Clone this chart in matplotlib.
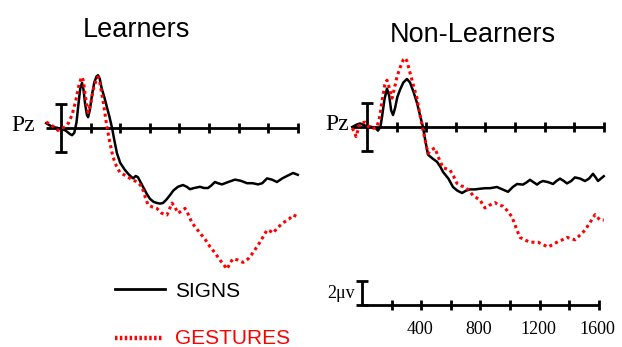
import matplotlib
matplotlib.use("Agg")
import matplotlib.pyplot as plt
from matplotlib.lines import Line2D

# ---------------- data (ms, microvolts) ----------------
learn_signs_t = [-100, -60, -20, 30, 60, 75, 90, 105, 118, 130, 142, 152, 163, 175, 183, 195,
                 210, 225, 240, 250, 262, 275, 292, 310, 328, 345, 360, 378, 400, 432, 460,
                 487, 505, 520, 554, 580, 601, 625, 648, 670, 689, 710, 736, 760, 790, 824,
                 850, 871, 900, 939, 965, 993, 1015, 1040, 1060, 1088, 1130, 1176, 1215,
                 1257, 1295, 1331, 1360, 1392, 1425, 1459, 1495, 1527, 1568, 1600]
learn_signs_v = [0.4, 0.1, 0.0, -0.2, -0.5, -0.6, -0.4, 0.5, 2.0, 3.3, 3.75, 3.2, 2.0, 1.1,
                 0.9, 1.5, 2.8, 3.8, 4.3, 4.4, 4.1, 3.3, 2.6, 1.75, 0.9, 0.0, -1.0, -2.1,
                 -2.9, -3.5, -3.9, -4.2, -4.0, -4.1, -4.9, -5.5, -5.9, -6.15, -6.25, -6.3,
                 -6.25, -6.0, -5.6, -5.2, -4.9, -4.75, -4.9, -5.1, -5.0, -4.9, -5.0, -5.0,
                 -4.8, -4.5, -4.6, -4.7, -4.5, -4.3, -4.4, -4.6, -4.6, -4.7, -4.6, -4.2,
                 -4.3, -4.5, -4.2, -4.0, -3.75, -3.9]

learn_gest_t = [-100, -65, -20, 27, 50, 75, 100, 120, 135, 142, 152, 165, 183, 200, 220, 240,
                250, 262, 285, 310, 330, 351, 375, 398, 440, 480, 515, 547, 570, 588, 620,
                648, 680, 716, 750, 770, 791, 815, 838, 860, 885, 910, 939, 975, 1007, 1040,
                1074, 1100, 1122, 1145, 1162, 1195, 1230, 1265, 1297, 1345, 1392, 1415, 1432,
                1465, 1500, 1540, 1568, 1600]
learn_gest_v = [0.5, 0.25, -0.2, 0.1, 0.4, 1.1, 2.3, 3.5, 4.1, 4.25, 3.9, 2.6, 1.3, 2.0, 3.3,
                4.1, 4.25, 3.8, 2.2, 0.1, -1.2, -2.4, -3.2, -3.7, -4.0, -4.3, -4.5, -4.9,
                -5.8, -6.4, -6.6, -6.7, -7.1, -7.25, -6.25, -6.6, -7.1, -6.9, -6.7, -7.2,
                -7.9, -8.3, -8.75, -9.3, -9.9, -10.4, -11.0, -11.4, -11.75, -11.2, -10.9,
                -11.0, -11.2, -10.9, -10.4, -9.5, -8.5, -8.6, -8.75, -8.3, -7.9, -7.6, -7.25,
                -7.4]

non_signs_t = [-100, -70, -47, -10, 34, 60, 74, 90, 101, 118, 135, 150, 163, 176, 190, 205,
               223, 245, 270, 291, 315, 338, 358, 378, 395, 412, 440, 473, 495, 514, 550,
               581, 610, 642, 670, 696, 730, 760, 800, 831, 878, 915, 953, 985, 1014, 1054,
               1080, 1101, 1125, 1149, 1170, 1189, 1225, 1257, 1280, 1304, 1330, 1351, 1380,
               1405, 1440, 1473, 1500, 1527, 1545, 1561, 1580, 1600]
non_signs_v = [0.0, 0.2, 0.3, 0.1, 0.0, -0.1, -0.3, 0.0, 0.8, 2.3, 3.2, 2.6, 1.4, 1.0, 1.6,
               2.5, 3.1, 3.7, 4.0, 3.7, 2.9, 2.0, 1.0, 0.0, -1.2, -2.3, -2.6, -2.9, -3.3,
               -3.75, -4.3, -5.0, -5.3, -5.5, -5.3, -5.2, -5.2, -5.15, -5.1, -5.1, -5.0,
               -5.2, -5.4, -5.0, -4.75, -4.8, -4.6, -4.4, -4.6, -4.8, -4.6, -4.5, -4.6,
               -4.75, -4.5, -4.3, -4.5, -4.7, -4.5, -4.2, -4.3, -4.5, -4.3, -3.9, -4.2,
               -4.5, -4.3, -4.1]

non_gest_t = [-100, -85, -74, -60, -47, -14, 20, 50, 67, 85, 101, 120, 135, 150, 169, 185,
              203, 225, 245, 257, 270, 291, 315, 338, 358, 378, 412, 435, 459, 485, 514,
              540, 561, 585, 608, 635, 662, 690, 716, 740, 764, 797, 830, 865, 890, 919,
              950, 980, 1010, 1034, 1065, 1101, 1130, 1155, 1190, 1223, 1255, 1284, 1320,
              1351, 1380, 1405, 1440, 1473, 1510, 1541, 1574, 1600]
non_gest_v = [-0.1, -0.4, -0.8, -0.2, 0.3, 0.4, -0.1, -0.1, 0.0, 0.8, 2.1, 3.5, 3.9, 3.3,
              2.4, 3.2, 4.2, 5.0, 5.6, 5.75, 5.5, 4.5, 3.4, 2.4, 1.0, -0.25, -2.2, -1.9,
              -1.75, -2.6, -3.4, -3.5, -3.6, -4.1, -4.7, -4.9, -5.0, -5.3, -5.7, -5.9,
              -6.1, -6.75, -6.5, -6.3, -6.5, -6.6, -7.0, -7.5, -8.5, -9.2, -9.4, -9.6,
              -9.6, -9.6, -9.8, -10.0, -9.8, -9.6, -9.4, -9.2, -9.3, -9.4, -9.0, -8.6,
              -7.9, -7.3, -7.75, -7.75]

tick_ms = [200, 400, 600, 800, 1000, 1200, 1400, 1600]
label_ms = [400, 800, 1200, 1600]
titles = ["Learners", "Non-Learners"]
legend_labels = ["SIGNS", "GESTURES"]

# ---------------- layout ----------------
W, H = 622, 347
fig = plt.figure(figsize=(W / 100, H / 100), dpi=100)
PX_MS = 29.6 / 200.0
PX_UV = 12.0
SERIF = ["Liberation Serif", "DejaVu Serif"]
SANS = ["Liberation Sans", "DejaVu Sans"]
RED = "#ff0000"


def make_axes(x0, base, left, right, top, bottom):
    ax = fig.add_axes([left / W, 1 - bottom / H, (right - left) / W, (bottom - top) / H])
    ax.set_xlim((left - x0) / PX_MS, (right - x0) / PX_MS)
    ax.set_ylim((base - bottom) / PX_UV, (base - top) / PX_UV)
    ax.axis("off")
    return ax


def draw_panel(ax, st, sv, gt, gv):
    ax.plot([-100, 1600], [0, 0], color="black", lw=2.0, solid_capstyle="butt", zorder=2)
    ax.plot(tick_ms, [0] * len(tick_ms), ls="none", marker="|", ms=6.5, mew=2.0,
            color="black", zorder=2)
    ax.errorbar([0], [0], yerr=[[2], [2]], color="black", lw=2.0, capsize=4.5,
                capthick=2.0, zorder=2)
    ax.plot(st, sv, color="black", lw=1.8, zorder=3, solid_joinstyle="round")
    ax.plot(gt, gv, color=RED, lw=2.2, ls=(0, (1, 1.1)), zorder=4)


axL = make_axes(61, 128, 40, 312, 50, 285)
draw_panel(axL, learn_signs_t, learn_signs_v, learn_gest_t, learn_gest_v)
axR = make_axes(367, 127, 345, 616, 40, 272)
draw_panel(axR, non_signs_t, non_signs_v, non_gest_t, non_gest_v)

# scale axis
axS = make_axes(362, 305, 340, 616, 275, 320)
axS.plot([0, 1600], [0, 0], color="black", lw=2.0, solid_capstyle="butt")
axS.plot(tick_ms, [0] * len(tick_ms), ls="none", marker="|", ms=6.5, mew=2.0, color="black")
axS.errorbar([0], [0], yerr=[[0], [2]], color="black", lw=2.0, capsize=4.5, capthick=2.0)
for t in label_ms:
    axS.annotate(str(t), (t, 0), xytext=(-1, -18), textcoords="offset points",
                 ha="center", va="center", fontsize=13, family=SERIF)
axS.annotate("2\u03bcv", (0, 0), xytext=(-5, 8), textcoords="offset points",
             ha="right", va="center", fontsize=13, family=SERIF)

# titles and labels
fig.text(136 / W, 1 - 37 / H, titles[0], ha="center", va="baseline", fontsize=19.5, family=SANS)
fig.text(473 / W, 1 - 42 / H, titles[1], ha="center", va="baseline", fontsize=19.5, family=SANS)
fig.text(11 / W, 1 - 126 / H, "Pz", ha="left", va="center", fontsize=17, family=SERIF)
fig.text(325 / W, 1 - 125 / H, "Pz", ha="left", va="center", fontsize=17, family=SERIF)

# legend
fig.add_artist(Line2D([115 / W, 165 / W], [1 - 289 / H, 1 - 289 / H], color="black", lw=2.0))
fig.add_artist(Line2D([115 / W, 162 / W], [1 - 338 / H, 1 - 338 / H], color=RED, lw=3.2,
                      ls=(0, (0.55, 0.55))))
fig.text(175 / W, 1 - 297 / H, legend_labels[0], ha="left", va="baseline", fontsize=15,
         family=SANS, color="black")
fig.text(175 / W, 1 - 344 / H, legend_labels[1], ha="left", va="baseline", fontsize=15,
         family=SANS, color=RED)

fig.savefig("out.png", dpi=100, facecolor="white")
